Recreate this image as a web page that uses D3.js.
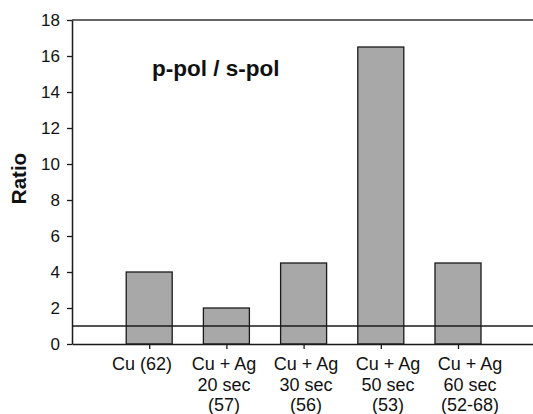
<!DOCTYPE html>
<html>
<head>
<meta charset="utf-8">
<script src="https://cdn.jsdelivr.net/npm/d3@7"></script>
<style>
  html, body { margin: 0; padding: 0; background: #fff; }
  svg { display: block; font-family: "Liberation Sans", Arial, Helvetica, sans-serif; }
</style>
</head>
<body>
<svg id="chart" width="533" height="414"></svg>
<script>
// ---- data ----
const categories = [
  ["Cu (62)"],
  ["Cu + Ag", "20 sec", "(57)"],
  ["Cu + Ag", "30 sec", "(56)"],
  ["Cu + Ag", "50 sec", "(53)"],
  ["Cu + Ag", "60 sec", "(52-68)"]
];
const ratioValues = [4, 2, 4.5, 16.5, 4.5];
const referenceValue = 1;
const yTicks = [0, 2, 4, 6, 8, 10, 12, 14, 16, 18];
const titleText = "p-pol / s-pol";
const yLabel = "Ratio";

// ---- layout ----
const svg = d3.select("#chart");
const mLeft = 72, mRight = 535.2, mTop = 20, mBottom = 344;

const x = d3.scaleLinear().domain([0, 6]).range([mLeft, mRight]);
const xLabel = d3.scaleLinear().domain([1, 5]).range([142, 470]);
const y = d3.scaleLinear().domain([0, 18]).range([mBottom, mTop]);
const barW = 46;

// bars
svg.append("g").selectAll("rect")
  .data(ratioValues)
  .join("rect")
  .attr("x", (d, i) => x(i + 1) - barW / 2)
  .attr("y", d => y(d))
  .attr("width", barW)
  .attr("height", d => y(0) - y(d))
  .attr("fill", "#a8a8a8")
  .attr("stroke", "#1a1a1a")
  .attr("stroke-width", 1.3);

// reference line
svg.append("line")
  .attr("x1", x(0)).attr("x2", x(6))
  .attr("y1", y(referenceValue)).attr("y2", y(referenceValue))
  .attr("stroke", "#1a1a1a").attr("stroke-width", 1.3);

// top frame line
svg.append("line")
  .attr("x1", x(0)).attr("x2", x(6))
  .attr("y1", y(18)).attr("y2", y(18))
  .attr("stroke", "#333").attr("stroke-width", 1.5);

// y axis
const yAxis = svg.append("g")
  .attr("transform", `translate(${mLeft},0)`)
  .call(d3.axisLeft(y).tickValues(yTicks).tickSize(5).tickPadding(7).tickSizeOuter(0));
yAxis.select(".domain").attr("stroke", "#1a1a1a").attr("stroke-width", 1.5);
yAxis.selectAll(".tick line").attr("stroke", "#1a1a1a").attr("stroke-width", 1.3);
yAxis.selectAll(".tick text")
  .attr("font-size", 17)
  .attr("font-family", "Liberation Sans, Arial, sans-serif")
  .attr("fill", "#111");

// x axis
const xAxis = svg.append("g")
  .attr("transform", `translate(0,${mBottom})`)
  .call(d3.axisBottom(x).tickValues([1, 2, 3, 4, 5]).tickSize(5).tickFormat("").tickSizeOuter(0));
xAxis.select(".domain").attr("stroke", "#1a1a1a").attr("stroke-width", 1.5);
xAxis.selectAll(".tick line").attr("stroke", "#1a1a1a").attr("stroke-width", 1.3);

// x category labels
const lab = svg.append("g").selectAll("text")
  .data(categories)
  .join("text")
  .attr("x", (d, i) => xLabel(i + 1))
  .attr("y", 370)
  .attr("text-anchor", "middle")
  .attr("font-size", 18)
  .attr("fill", "#111");
lab.selectAll("tspan")
  .data(d => d)
  .join("tspan")
  .attr("x", function () { return d3.select(this.parentNode).attr("x"); })
  .attr("dy", (d, i) => i === 0 ? 0 : 20.5)
  .text(d => d);

// y label
svg.append("text")
  .attr("transform", `translate(26,178.5) rotate(-90)`)
  .attr("text-anchor", "middle")
  .attr("font-size", 20.5)
  .attr("font-weight", "bold")
  .attr("fill", "#111")
  .text(yLabel);

// title annotation
svg.append("text")
  .attr("x", 152)
  .attr("y", 76)
  .attr("font-size", 22.5)
  .attr("font-weight", "bold")
  .attr("fill", "#111")
  .text(titleText);
</script>
</body>
</html>
